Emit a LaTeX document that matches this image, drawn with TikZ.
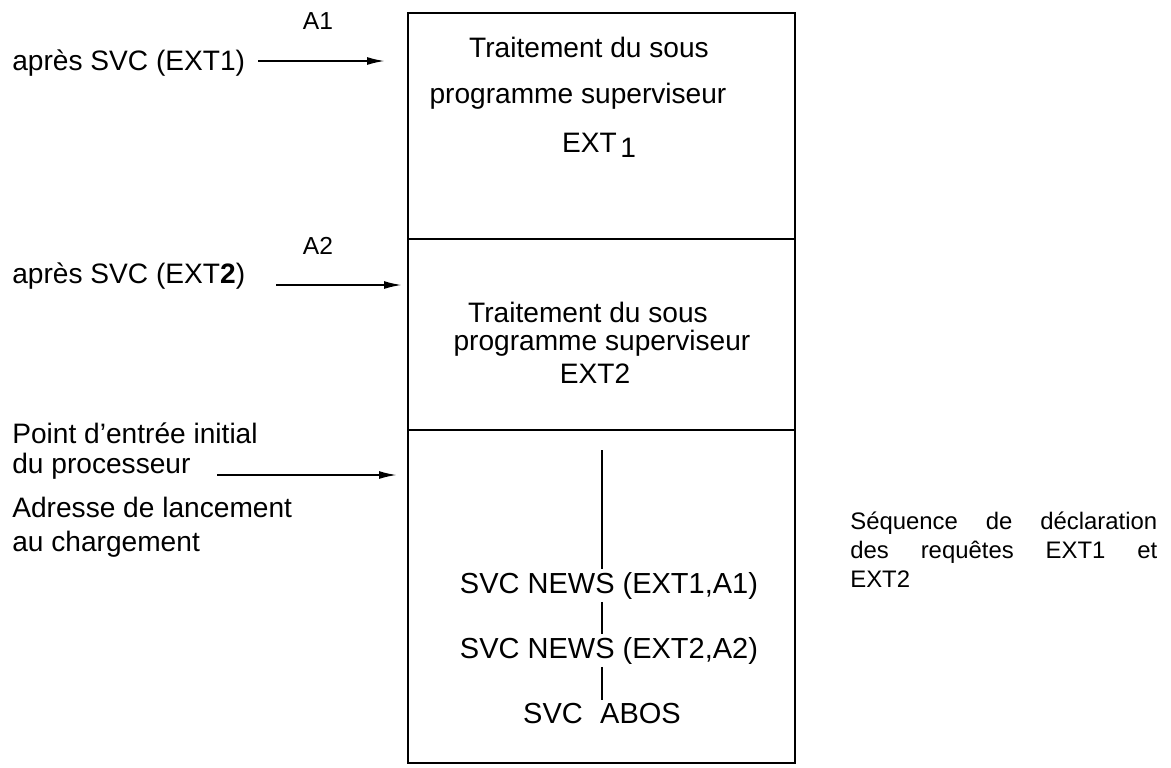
\documentclass[tikz,border=0pt]{standalone}
\usepackage{fontspec}
\setmainfont{Liberation Sans}
\usetikzlibrary{arrows.meta}

\begin{document}
\begin{tikzpicture}[
  x=0.02cm, y=-0.02cm,
  every node/.style={inner sep=0pt},
  lbl/.style={anchor=base west, font=\fontsize{16}{19}\selectfont},
  txt/.style={anchor=base, font=\fontsize{16}{19}\selectfont},
  svc/.style={anchor=base, inner sep=1.5pt, font=\fontsize{16.5}{20}\selectfont},
  tag/.style={font=\fontsize{14}{17}\selectfont},
  entry/.style={line width=1.1pt, -{Latex[length=3.6mm,width=1.6mm]}},
  frame/.style={line width=0.8pt}
]
  \useasboundingbox (0,0) rectangle (1171,768);

  % the zone and its three parts
  \coordinate (nw) at (408,13);
  \coordinate (se) at (795,763);
  \draw[frame] (nw) rectangle (se);
  \draw[frame] (408,239) -- (795,239);
  \draw[frame] (408,430) -- (795,430);

  % entry points on the left
  \node[tag] (a1) at (318,21) {A1};
  \node[tag] (a2) at (318,246) {A2};
  \node[lbl] (ret1) at (12,70) {après SVC (EXT1)};
  \node[lbl] (ret2) at (12,283) {après SVC (EXT\textbf{2})};
  \node[lbl] (init1) at (12,443) {Point d’entrée initial};
  \node[lbl] (init2) at (12,473) {du processeur};
  \node[lbl] (load1) at (12,517) {Adresse de lancement};
  \node[lbl] (load2) at (12,551) {au chargement};

  \coordinate (s1) at (258,61);  \coordinate (e1) at (385,61);
  \coordinate (s2) at (276,285); \coordinate (e2) at (402,285);
  \coordinate (s3) at (217,475); \coordinate (e3) at (397,475);
  \draw[entry] (s1) -- (e1);
  \draw[entry] (s2) -- (e2);
  \draw[entry] (s3) -- (e3);

  % supervisor routines
  \node[txt] (sub1a) at (589,57) {Traitement du sous};
  \node[txt] (sub1b) at (578,103) {programme superviseur};
  \node[txt] (sub1c) at (599,152) {EXT\kern2pt\raisebox{-3pt}{1}};
  \node[txt] (sub2a) at (588,322) {Traitement du sous};
  \node[txt] (sub2b) at (602,350) {programme superviseur};
  \node[txt] (sub2c) at (595,383) {EXT2};

  % main sequence
  \coordinate (spine) at (602,450);
  \node[svc] (news1) at (609,593) {SVC NEWS (EXT1,A1)};
  \node[svc] (news2) at (609,658) {SVC NEWS (EXT2,A2)};
  \node[svc] (abos) at (602,723) {SVC\hspace{0.6em}ABOS};
  \draw[line width=0.7pt] (spine) -- (spine |- news1.north);
  \draw[line width=0.7pt] (spine |- news1.south) -- (spine |- news2.north);
  \draw[line width=0.7pt] (spine |- news2.south) -- (spine |- abos.north);

  \node[anchor=north west, text width=6.14cm, align=justify,
        font=\fontsize{13.6}{16.3}\selectfont] (seq) at (850,512)
    {Séquence de déclaration\linebreak des requêtes EXT1 et\linebreak EXT2};
\end{tikzpicture}
\end{document}
